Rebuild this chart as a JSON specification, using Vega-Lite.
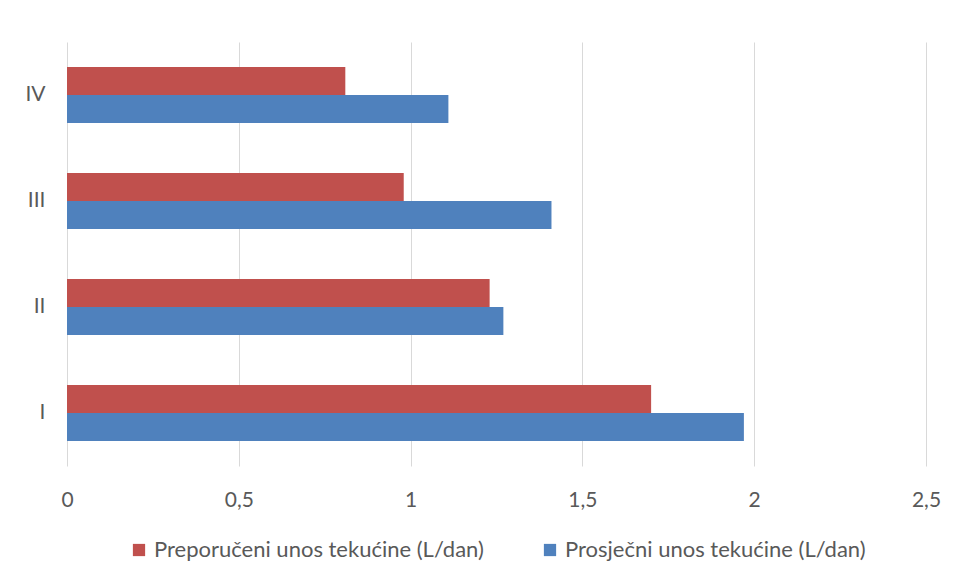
{
  "$schema": "https://vega.github.io/schema/vega-lite/v6.json",
  "width": 859,
  "height": 424,
  "autosize": "none",
  "padding": {"left": 67, "top": 42, "right": 31, "bottom": 119},
  "background": "white",
  "data": {
    "values": [
      {"skupina": "IV", "serija": "Preporučeni unos tekućine (L/dan)", "vrijednost": 0.81},
      {"skupina": "IV", "serija": "Prosječni unos tekućine (L/dan)", "vrijednost": 1.11},
      {"skupina": "III", "serija": "Preporučeni unos tekućine (L/dan)", "vrijednost": 0.98},
      {"skupina": "III", "serija": "Prosječni unos tekućine (L/dan)", "vrijednost": 1.41},
      {"skupina": "II", "serija": "Preporučeni unos tekućine (L/dan)", "vrijednost": 1.23},
      {"skupina": "II", "serija": "Prosječni unos tekućine (L/dan)", "vrijednost": 1.27},
      {"skupina": "I", "serija": "Preporučeni unos tekućine (L/dan)", "vrijednost": 1.70},
      {"skupina": "I", "serija": "Prosječni unos tekućine (L/dan)", "vrijednost": 1.97}
    ]
  },
  "mark": {"type": "bar"},
  "encoding": {
    "y": {
      "field": "skupina",
      "type": "nominal",
      "sort": ["IV", "III", "II", "I"],
      "scale": {"paddingInner": 0.47, "paddingOuter": 0.235},
      "axis": {
        "title": null,
        "domain": false,
        "ticks": false,
        "grid": false,
        "labelPadding": 22,
        "labelFontSize": 21,
        "labelColor": "#595959",
        "labelFont": "Lato"
      }
    },
    "yOffset": {
      "field": "serija",
      "type": "nominal",
      "sort": ["Preporučeni unos tekućine (L/dan)", "Prosječni unos tekućine (L/dan)"]
    },
    "x": {
      "field": "vrijednost",
      "type": "quantitative",
      "scale": {"domain": [0, 2.5], "nice": false},
      "axis": {
        "title": null,
        "values": [0, 0.5, 1, 1.5, 2, 2.5],
        "labelExpr": "replace(format(datum.value, ''), '.', ',')",
        "domain": false,
        "ticks": false,
        "grid": true,
        "gridColor": "#D9D9D9",
        "gridWidth": 1,
        "labelPadding": 23,
        "labelFontSize": 21,
        "labelColor": "#595959",
        "labelFont": "Lato",
        "labelFlush": false
      }
    },
    "color": {
      "field": "serija",
      "type": "nominal",
      "scale": {
        "domain": ["Preporučeni unos tekućine (L/dan)", "Prosječni unos tekućine (L/dan)"],
        "range": ["#C0504D", "#4F81BD"]
      },
      "legend": {
        "title": null,
        "orient": "bottom",
        "direction": "horizontal",
        "symbolType": "square",
        "symbolSize": 150,
        "symbolStrokeWidth": 0,
        "labelFontSize": 22,
        "labelColor": "#595959",
        "labelFont": "Lato",
        "labelLimit": 500,
        "columnPadding": 55,
        "offset": 29
      }
    }
  },
  "config": {
    "view": {"stroke": null},
    "legend": {"layout": {"bottom": {"anchor": "middle"}}}
  }
}
